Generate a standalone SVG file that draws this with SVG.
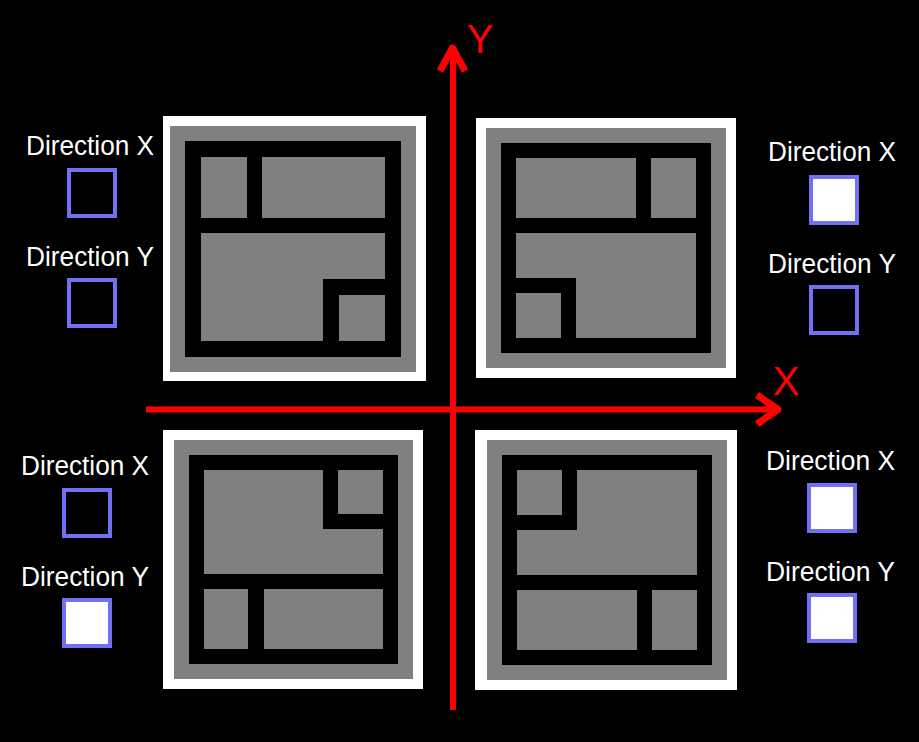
<svg xmlns="http://www.w3.org/2000/svg" width="919" height="742" viewBox="0 0 919 742">
<style>
.bg{fill:#000}
.wh{fill:#fff}
.gr{fill:#808080}
.bk{fill:#000}
.lbl{font-family:"Liberation Sans",Arial,sans-serif;font-size:27px;fill:#fff}
.box{stroke:#7070f2;stroke-width:4}
.on{fill:#fff}
.off{fill:#000}
.axis{stroke:#ff0000;stroke-width:6;fill:none}
.head{stroke:#ff0000;stroke-width:7;fill:none;stroke-linejoin:round}
.axl{font-family:"Liberation Sans",Arial,sans-serif;font-size:40px;fill:#ff0000;text-anchor:middle}
</style>
<rect class="bg" x="0" y="0" width="919" height="742"/>

<g id="panel-tl">
<rect class="wh" x="163" y="116" width="263" height="265"/>
<rect class="gr" x="170" y="126" width="246" height="246"/>
<rect class="bk" x="185" y="141" width="216" height="216"/>
<rect class="gr" x="201" y="157" width="46" height="61"/>
<rect class="gr" x="262" y="157" width="123" height="61"/>
<polygon class="gr" points="201,233 385,233 385,279 323,279 323,341 201,341"/>
<rect class="gr" x="339" y="295" width="46" height="46"/>
</g>

<g id="panel-tr">
<rect class="wh" x="476" y="118" width="260" height="260"/>
<rect class="gr" x="486" y="128" width="240" height="240"/>
<rect class="bk" x="501" y="143" width="210" height="210"/>
<rect class="gr" x="516" y="158" width="120" height="60"/>
<rect class="gr" x="651" y="158" width="45" height="60"/>
<polygon class="gr" points="516,233 696,233 696,338 576,338 576,278 516,278"/>
<rect class="gr" x="516" y="293" width="45" height="45"/>
</g>

<g id="panel-bl">
<rect class="wh" x="163" y="430" width="260" height="259"/>
<rect class="gr" x="174" y="440" width="239" height="239"/>
<rect class="bk" x="189" y="455" width="209" height="209"/>
<polygon class="gr" points="204,470 323,470 323,529 383,529 383,574 204,574"/>
<rect class="gr" x="338" y="470" width="45" height="44"/>
<rect class="gr" x="204" y="589" width="44" height="60"/>
<rect class="gr" x="264" y="589" width="119" height="60"/>
</g>

<g id="panel-br">
<rect class="wh" x="475" y="430" width="262" height="260"/>
<rect class="gr" x="487" y="440" width="240" height="240"/>
<rect class="bk" x="502" y="455" width="210" height="210"/>
<rect class="gr" x="517" y="470" width="45" height="45"/>
<polygon class="gr" points="577,470 697,470 697,575 517,575 517,530 577,530"/>
<rect class="gr" x="517" y="590" width="120" height="60"/>
<rect class="gr" x="652" y="590" width="45" height="60"/>
</g>

<g id="controls-tl">
<text class="lbl" x="26" y="155" textLength="128" lengthAdjust="spacingAndGlyphs">Direction X</text>
<rect class="box off" x="69" y="170" width="46" height="46"/>
<text class="lbl" x="26" y="266" textLength="128" lengthAdjust="spacingAndGlyphs">Direction Y</text>
<rect class="box off" x="69" y="280" width="46" height="46"/>
</g>

<g id="controls-tr">
<text class="lbl" x="768" y="161" textLength="128" lengthAdjust="spacingAndGlyphs">Direction X</text>
<rect class="box on" x="811" y="177" width="46" height="46"/>
<text class="lbl" x="768" y="273" textLength="128" lengthAdjust="spacingAndGlyphs">Direction Y</text>
<rect class="box off" x="811" y="287" width="46" height="46"/>
</g>

<g id="controls-bl">
<text class="lbl" x="21" y="475" textLength="128" lengthAdjust="spacingAndGlyphs">Direction X</text>
<rect class="box off" x="64" y="490" width="46" height="46"/>
<text class="lbl" x="21" y="586" textLength="128" lengthAdjust="spacingAndGlyphs">Direction Y</text>
<rect class="box on" x="64" y="600" width="46" height="46"/>
</g>

<g id="controls-br">
<text class="lbl" x="766" y="470" textLength="129" lengthAdjust="spacingAndGlyphs">Direction X</text>
<rect class="box on" x="809" y="485" width="46" height="46"/>
<text class="lbl" x="766" y="581" textLength="129" lengthAdjust="spacingAndGlyphs">Direction Y</text>
<rect class="box on" x="809" y="595" width="46" height="46"/>
</g>

<g id="axes">
<line class="axis" x1="453" y1="710" x2="453" y2="50"/>
<polyline class="head" points="440,71 452.5,48 465,71"/>
<line class="axis" x1="146" y1="409.5" x2="776" y2="409.5"/>
<polyline class="head" points="757,395 778,409.5 757,424"/>
<text class="axl" x="480" y="53">Y</text>
<text class="axl" x="786" y="395">X</text>
</g>
</svg>
